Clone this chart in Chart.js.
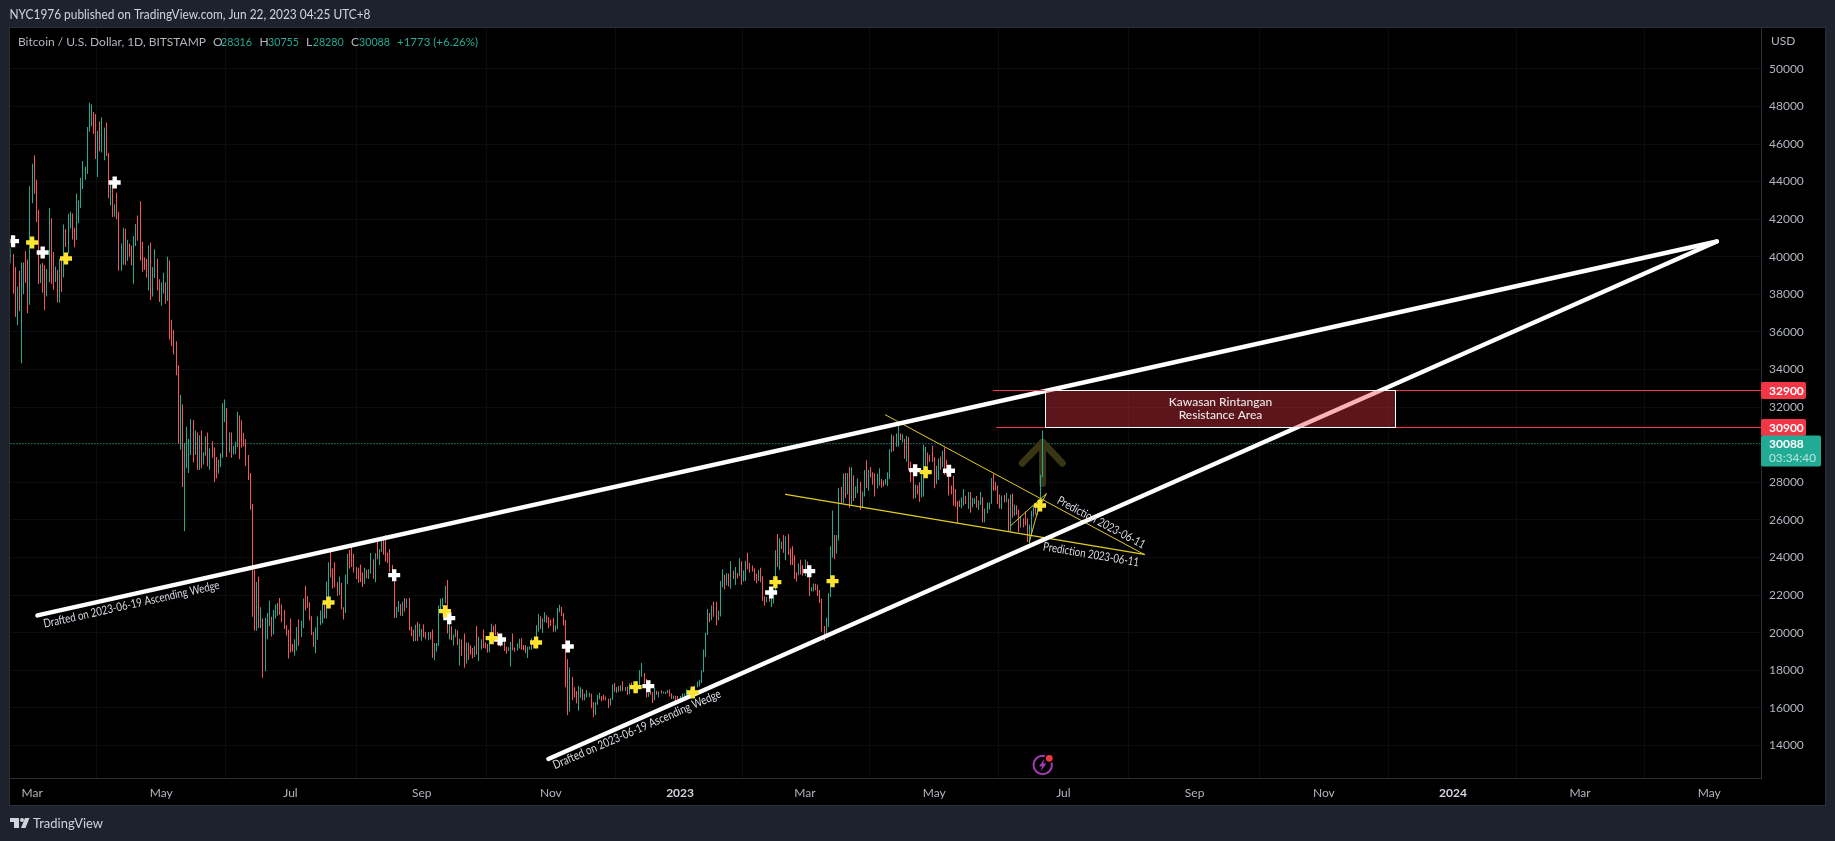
<!DOCTYPE html>
<html><head><meta charset="utf-8">
<style>html,body{margin:0;padding:0;background:#1e222d;overflow:hidden}canvas{display:block}</style>
<script src="https://cdn.jsdelivr.net/npm/chart.js@4"></script>
</head><body><canvas id="c" width="1835" height="841"></canvas>
<script>
// Day numbers count from 2022-03-01. The candle series starts on 2022-02-19 (day -10) and ends on 2023-06-21.
const firstCandleDay = -10;
const firstOpen = 40000;
const highs = [
40450,40150,39450,38400,39250,39700,39700,40300,39850,43750,
44950,45400,44100,42500,39600,39680,39550,39350,42600,42050,40250,39480,39300,39900,39860,41720,41470,42300,42400,42300,41540,43370,43000,44200,45100,44800,46900,48190,48100,47700,47600,
46700,47200,47420,46880,47150,45510,43900,43960,42800,43400,42400,40700,41550,41490,40900,40700,40600,41100,41750,42200,42950,40800,39980,39900,40600,40750,39450,40400,39900,38800,
38650,39150,38650,40000,39800,36650,36100,35500,34230,32650,32150,30100,30950,30300,31350,31300,30750,30650,30500,30750,29600,30450,30650,29800,30180,29850,29350,29200,29540,32200,32400,
31950,30650,30650,29950,30150,31750,31560,31300,30630,30300,29450,28500,26850,23350,22700,22980,21350,20750,20800,21050,21700,20850,21200,21500,21580,21850,21500,21200,20400,20150,
20750,19400,19650,20300,20700,20650,21820,22500,21950,21600,20870,20050,20280,20860,21180,21560,21650,22720,23750,24290,23420,23750,22700,22990,22650,21350,23100,24180,24400,24650,24200,
23500,23450,23620,23200,23450,23350,23380,24240,23900,24220,24900,24450,24880,25050,25200,24250,24450,23600,23200,21380,21680,21520,21650,21850,21820,21850,20330,20150,20420,20570,20480,
20200,20450,20050,20030,20050,20170,19450,19450,21450,21800,21850,22500,22800,20550,20350,19900,20190,20100,19680,19630,19950,19480,19480,19310,19180,19300,20350,19780,19650,20170,
19480,19400,19700,20470,20370,20450,20050,19600,19550,19520,19250,19220,19500,19950,19210,19420,19680,19700,19350,19340,19250,19260,19700,19600,20400,21000,20870,20750,21080,20930,20830,
20700,20800,20400,21300,21480,21360,21050,20680,18600,18150,17650,17100,16900,17170,17100,17000,16750,16950,16800,16750,16300,16300,16680,16800,16600,16700,16600,16480,16530,17250,
17320,17110,17160,17200,17420,17110,17130,17300,17350,17220,17260,17240,18000,18390,17850,17530,16800,16860,16830,17060,16910,16870,16930,16870,16860,16940,16970,16780,16660,16640,16630,
16630,16760,16760,16990,16880,17010,16960,17170,17390,17490,18000,19100,19990,21260,21050,21450,21650,21650,21180,22750,23370,23080,23180,23150,23800,23290,23490,23180,23970,23800,23320,
23810,24250,23720,23580,23430,23150,23340,23450,23000,21930,21900,22070,21890,22300,24380,25250,25020,24850,25200,25120,25250,24480,24600,24120,23220,23680,23880,23600,
23890,23780,23470,22420,22620,22600,22550,22270,21800,20300,20800,22100,24600,26500,25200,25200,27700,27750,28450,28500,28500,28800,28800,28380,27780,28200,28030,27500,28650,29180,28650,
28800,28530,28480,28450,28750,28180,28100,28170,28530,29770,30550,30480,30600,31000,30600,30550,30310,30480,30410,29100,28370,27880,27820,28000,28400,30000,29890,29580,29450,29950,
29350,28880,29270,29370,29680,29850,29200,28650,27830,28330,27650,27000,27050,27200,27650,27280,27480,27480,27180,27150,27270,27050,27480,27220,26600,26930,26930,28230,28450,28030,27830,
27350,27300,27330,27450,27130,27350,27400,26800,26780,26540,26210,26090,26450,26080,25750,26480,26770,26690,27050,28400,30755
];
const lows = [
39650,38050,36800,36350,37100,34330,38000,38600,37000,37450,
42850,43350,41850,38550,38600,38090,37150,37880,38650,38550,38250,38660,37580,37560,38120,38900,40520,40200,41520,40920,40500,40890,41800,42600,43600,44100,44400,46650,46950,46540,45200,
44250,45620,45550,45130,45360,43120,42730,42120,42130,42000,39250,39250,39570,39570,39770,40000,39550,38560,40570,40850,39800,39200,39300,38900,38200,37700,37880,38870,38200,37600,
37400,38050,37500,37650,35600,35250,34800,33700,30050,29750,27750,25400,28750,28500,29450,29050,29450,28650,28650,28750,28950,29430,28850,28670,29300,28020,28200,28450,28800,29300,31200,
29350,29580,29300,29480,29500,29880,29230,29850,29920,28850,28120,26550,20850,20100,20100,20230,20250,17600,17950,19650,20350,19800,19900,20750,20900,20950,20550,20200,19850,18630,
18950,18980,18780,19050,19300,19770,20250,21180,21320,20650,19880,19240,18900,19620,20400,20500,20760,20760,21600,22950,22350,22400,21950,22000,21250,20700,21050,22580,23420,23500,23200,
22850,22650,22700,22430,22600,22900,22850,23150,22870,22680,23900,23600,24300,24150,23780,23700,23200,23100,20780,20800,21100,20900,20880,21130,21320,20110,19810,19530,19550,19550,19800,
19570,19750,19650,19600,19640,18650,18530,19000,19300,21120,21400,21560,19950,19650,19600,19320,19750,19350,18250,18760,18130,18360,18550,18820,18640,18700,18820,18480,19100,19180,
19160,18950,18960,19500,19730,19860,19330,19250,19320,19030,18880,19020,18200,19070,18980,19050,19160,19100,19060,18900,18650,19110,19090,19160,19250,20050,20200,20000,20550,20530,20230,
20350,20050,20050,20180,21080,20880,20380,17100,15600,15800,16400,16550,16250,15850,16540,16400,16400,16550,16570,15980,15500,15620,16170,16460,16350,16400,16400,15990,16120,16430,
16860,16790,16860,16880,16880,16900,16690,16730,17080,17090,17070,16870,17080,17660,17280,16550,16580,16700,16260,16400,16700,16560,16760,16780,16730,16790,16600,16470,16490,16330,16470,
16500,16550,16600,16650,16750,16670,16910,16910,17100,17150,17320,17900,18700,19880,20550,20660,20850,20400,20660,20860,22420,22300,22520,22460,22340,22850,22540,22880,23000,22550,22720,
22750,23370,23200,23260,22760,22630,22750,22680,21690,21450,21600,21640,21370,21550,22040,23500,23350,24450,24250,23850,24150,23600,23600,22850,22720,23060,23100,23030,
23020,23200,21950,22200,22200,22260,21950,21580,20050,19570,19780,20300,21900,24000,23900,24200,24900,26840,26900,27170,27350,26650,26800,27000,27170,27420,26520,26650,27250,27700,27550,
28250,27870,27250,27670,27830,27730,27780,27880,27800,28170,29600,29650,29900,29900,30250,30130,29250,29100,28630,28000,27130,27150,27350,26970,27200,27250,28400,28900,29100,29100,
27680,27900,28120,28680,28800,28400,28400,27300,27360,26750,26700,25810,26680,26600,26750,26850,26580,26380,26670,26850,26650,26530,26800,25860,25870,26350,26550,26860,27550,27560,26850,
26600,26570,26930,26950,25390,25370,26120,26220,26270,25350,25600,25600,25720,24820,24750,25180,26170,26290,26250,26650,28280
];
const closes = [
40090,38400,37000,38250,37260,38330,39210,39120,37700,43180,
44420,43910,42450,39140,39400,38420,37980,38730,41940,39420,38730,38810,37790,39670,39280,41140,40950,41780,42190,41270,41000,42370,42890,43970,44330,44530,46820,47130,47450,47070,45530,
46300,45800,46400,46590,45520,43170,43450,42260,42760,42170,39530,40070,41140,39930,40550,40400,39700,40800,41500,41360,40480,39710,39460,39450,40430,38120,39240,39740,38600,37650,
38470,38520,37730,39700,36530,36010,35470,34060,30080,31020,28950,29030,29270,30080,31300,29860,30420,28700,30300,29180,29430,30280,29100,29650,29530,29190,28620,28990,29450,31720,31790,
29800,30450,29700,29860,29900,31370,31130,30200,30090,29090,28420,26570,22470,22130,22570,20390,20450,19000,20570,20580,20700,19970,21100,21230,21490,21040,20730,20260,20100,19430,
19270,19240,19300,20230,20190,20540,21630,21600,21590,20850,19970,19320,20230,20580,20830,21190,20780,22450,23390,23220,23150,22680,22450,22580,21300,21250,22950,23850,23770,23650,23300,
23270,22980,22820,22620,23300,22950,23170,23810,23150,23950,23940,24400,24440,24300,24100,23850,23330,23200,20830,21140,21520,21400,21520,21370,21570,20240,20030,19560,20280,19800,20050,
20130,19950,19830,19990,19790,18790,19290,19320,21370,21650,21830,22400,20170,20230,19700,19800,20110,19420,19540,18880,18470,19400,19300,18920,18800,19220,19080,19410,19590,19420,
19310,19060,19620,20340,20160,19950,19530,19420,19440,19130,19060,19150,19380,19180,19070,19260,19550,19330,19130,19040,19160,19200,19570,19330,20090,20770,20300,20590,20820,20620,20490,
20480,20150,20210,21150,21300,20920,20600,18540,15880,17590,17070,16800,16330,16620,16900,16660,16690,16700,16700,16280,15780,16220,16600,16600,16520,16450,16430,16210,16440,17170,
16970,17090,16890,17110,16970,17090,16840,17220,17130,17130,17090,17210,17780,17810,17360,16630,16780,16740,16440,16900,16820,16830,16780,16830,16830,16920,16700,16540,16630,16600,16530,
16610,16670,16670,16850,16830,16950,16940,17120,17180,17440,17940,18850,19930,20950,20880,21180,21140,20680,21080,22680,22780,22710,22920,22630,23060,23010,23080,23030,23750,22840,23130,
23730,23490,23430,23330,22940,22760,23240,22960,21800,21630,21860,21780,21780,22200,24330,23520,24570,24630,24280,24840,24440,24180,23940,23180,23160,23560,23490,23130,
23640,23470,22350,22350,22430,22410,22190,21700,20360,20150,20450,21990,24120,24670,24280,25050,27430,26960,28040,27800,28170,27300,28300,27470,27490,28000,27130,27270,28360,28030,28470,
28460,28200,27800,28170,28180,28040,27920,27940,28330,29650,30230,29900,30390,30480,30300,30320,29430,30380,28800,28240,27270,27820,27590,27520,28300,28420,29470,29340,29250,29230,
28070,28680,29030,28850,29530,28900,28440,27670,27630,27620,26980,26800,26780,26920,27170,27030,27400,26830,26880,27110,26750,26850,27220,26330,26470,26720,26870,28080,27750,27710,27210,
26820,27240,27070,27120,25740,27240,26340,26500,26480,25850,25920,25910,25900,25130,25590,26340,26510,26340,26850,28316,30088
];
const priceTicks = [14000,16000,18000,20000,22000,24000,26000,28000,30000,32000,34000,36000,38000,40000,42000,44000,46000,48000,50000];
const timeTickDays = [0,61,122,184,245,306,365,426,487,549,610,671,731,792];
const timeTickLabels = ['Mar','May','Jul','Sep','Nov','2023','Mar','May','Jul','Sep','Nov','2024','Mar','May'];
const whiteMarkDays = [-9,5,39,171,197,221,253,291,349,367,417,433];
const whiteMarkPrices = [40830,40227,43951,23059,20772,19639,19266,17154,22139,23272,28646,28614];
const yellowMarkDays = [0,16,140,195,217,238,285,312,351,378,422,476];
const yellowMarkPrices = [40759,39908,21608,21144,19708,19479,17101,16819,22687,22740,28539,26768];
const wedgeUpperDays = [2.5,795.6];
const wedgeUpperPrices = [20915,40812];
const wedgeLowerDays = [243.8,795.6];
const wedgeLowerPrices = [13281,40812];
const predUpperDays = [402.9,525.2];
const predUpperPrices = [31593,24160];
const predLowerDays = [355.8,525.2];
const predLowerPrices = [27353,24160];
const swingADays = [462.2,478.9];
const swingAPrices = [25704,27390];
const swingBDays = [470.9,475,478.9];
const swingBPrices = [24815,26502,27390];
const arrowHeadDays = [467.6,477.2,486.5];
const arrowHeadPrices = [29018,30135,29018];
const arrowShaftDays = [477.2,477.2];
const arrowShaftPrices = [30135,27938];
const lastPrice = 30088;
const zoneTop = 32900, zoneBottom = 30900;
const zoneStartDay = 478.2, zoneEndDay = 643.5;
const zoneTopLineStart = 453.7, zoneBottomLineStart = 455.2;
const noteTexts = ['Drafted on 2023-06-19 Ascending Wedge','Drafted on 2023-06-19 Ascending Wedge','Prediction 2023-06-11','Prediction 2023-06-11'];
const noteDays = [46.9,285.6,504.9,500.1];
const notePrices = [21500,14851,25863,24160];
const noteAngles = [-12.55,-23.5,28,9.5];
const noteWidths = [180,182,98,97];
const xMin = -10.25, xMax = 816.7, yMin = 12267, yMax = 52172;

const FONT = 'Lato, "Open Sans", sans-serif';
const UP = '#22ab94', DOWN = '#f7525f';
const opens = closes.map((c,i)=> i===0 ? firstOpen : closes[i-1]);
const candleColors = closes.map((c,i)=> c>=opens[i] ? UP : DOWN);
const wicks = closes.map((c,i)=>({x:firstCandleDay+i,y:[lows[i],highs[i]]}));
const bodies = closes.map((c,i)=>({x:firstCandleDay+i,y:[Math.min(opens[i],c),Math.max(opens[i],c)]}));
const pts = (xs,ys)=>xs.map((x,i)=>({x,y:ys[i]}));
const lineDs = (xs,ys,color,width,order)=>({type:'line',data:pts(xs,ys),borderColor:color,borderWidth:width,pointRadius:0,
  borderCapStyle:'round',borderJoinStyle:'round',tension:0,fill:false,order,clip:false});

const chrome = {
  id:'chrome',
  beforeDraw(ch){
    const c=ch.ctx;
    c.save();
    c.fillStyle='#1e222d';c.fillRect(0,0,1835,841);
    c.fillStyle='#000';c.fillRect(10,28,1815,777);
    c.strokeStyle='#2a2e39';c.lineWidth=1;c.strokeRect(9.5,27.5,1816,778);
    c.restore();
  },
  afterDatasetsUpdate(ch){
    ch.data.datasets.forEach((d,i)=>{
      if(d.type==='bar'){ch.getDatasetMeta(i).data.forEach(el=>{el.x=Math.round(el.x-0.5)+0.5;});}
    });
  },
  beforeDatasetsDraw(ch){
    const c=ch.ctx,ys=ch.scales.y,a=ch.chartArea;
    const snap=v=>Math.floor(ys.getPixelForValue(v))+0.5;
    c.save();
    c.strokeStyle=UP;c.lineWidth=1;c.setLineDash([1,2]);
    c.beginPath();c.moveTo(a.left,snap(lastPrice));c.lineTo(a.right,snap(lastPrice));c.stroke();
    c.restore();
  },
  afterDatasetsDraw(ch){
    const c=ch.ctx,xs=ch.scales.x,ys=ch.scales.y,a=ch.chartArea;
    const snap=v=>Math.floor(ys.getPixelForValue(v))+0.5;
    c.save();
    // resistance lines and zone
    c.strokeStyle='#f23645';c.lineWidth=1;
    [[zoneTop,zoneTopLineStart],[zoneBottom,zoneBottomLineStart]].forEach(([p,d])=>{
      c.beginPath();c.moveTo(xs.getPixelForValue(d),snap(p));c.lineTo(a.right,snap(p));c.stroke();
    });
    const l=Math.round(xs.getPixelForValue(zoneStartDay))+0.5,r=Math.round(xs.getPixelForValue(zoneEndDay))+0.5;
    const t=snap(zoneTop),b=snap(zoneBottom);
    c.fillStyle='rgba(242,54,69,0.38)';c.fillRect(l,t,r-l,b-t);
    c.strokeStyle='#ffffff';c.strokeRect(l,t,r-l,b-t);
    c.fillStyle='#ece8e9';c.font='500 12px '+FONT;c.textAlign='center';c.textBaseline='middle';
    c.fillText('Kawasan Rintangan',(l+r)/2,402.5);
    c.fillText('Resistance Area',(l+r)/2,415);
    // rotated notes
    c.fillStyle='#d8dae0';c.font='12px '+FONT;
    noteTexts.forEach((s,i)=>{
      c.save();
      c.translate(xs.getPixelForValue(noteDays[i]),ys.getPixelForValue(notePrices[i]));
      c.rotate(noteAngles[i]*Math.PI/180);
      c.fillText(s,0,0,noteWidths[i]);
      c.restore();
    });
    // news icon
    c.strokeStyle='#a63bb5';c.lineWidth=2;
    c.beginPath();c.arc(1042.7,765,9.2,0,Math.PI*2);c.stroke();
    c.fillStyle='#a63bb5';
    c.beginPath();c.moveTo(1044.5,758.5);c.lineTo(1039,766.5);c.lineTo(1042.2,766.5);c.lineTo(1040.5,771.5);c.lineTo(1046.5,763.5);c.lineTo(1043.2,763.5);c.closePath();c.fill();
    c.fillStyle='#000';c.beginPath();c.arc(1049.3,758.3,5,0,Math.PI*2);c.fill();
    c.fillStyle='#f23645';c.beginPath();c.arc(1049.3,758.3,3.4,0,Math.PI*2);c.fill();
    c.restore();
  },
  afterDraw(ch){
    const c=ch.ctx,ys=ch.scales.y;
    const snap=v=>Math.floor(ys.getPixelForValue(v))+0.5;
    c.save();
    c.textBaseline='middle';c.textAlign='left';
    // header
    c.fillStyle='#d1d4dc';c.font='13px '+FONT;
    c.fillText('NYC1976 published on TradingView.com, Jun 22, 2023 04:25 UTC+8',9.5,15,361);
    c.font='12px '+FONT;c.fillStyle='#b2b5be';
    c.fillText('Bitcoin / U.S. Dollar, 1D, BITSTAMP',18,42,188);
    [['O',213],['H',259.5],['L',306],['C',351]].forEach(([s,x])=>c.fillText(s,x,42));
    c.fillStyle=UP;
    [['28316',221,31],['30755',268,31],['28280',312.7,31],['30088',359,31],['+1773 (+6.26%)',397,81]].forEach(([s,x,w])=>c.fillText(s,x,42,w));
    c.fillStyle='#b2b5be';c.fillText('USD',1771,41);
    // price tags
    const tag=(v,col)=>{const y=snap(v);c.fillStyle=col;c.beginPath();c.roundRect(1761,y-8.5,45,17,2);c.fill();
      c.fillStyle='#fff';c.font='bold 12px '+FONT;c.fillText(String(v),1769,y+0.5);};
    tag(zoneTop,'#f23645');tag(zoneBottom,'#f23645');
    const ly=snap(lastPrice);
    c.fillStyle=UP;c.beginPath();c.roundRect(1761,ly-8,60,31,2);c.fill();
    c.fillStyle='#fff';c.font='bold 12px '+FONT;c.fillText(String(lastPrice),1769,ly+0.5);
    c.fillStyle='#b5e6dd';c.font='12px '+FONT;c.fillText('03:34:40',1769,ly+15,47);
    // logo
    c.fillStyle='#d1d4dc';
    c.fillRect(10,818,9,4);c.fillRect(14,818,5,10);
    c.beginPath();c.arc(22,820,2,0,Math.PI*2);c.fill();
    c.beginPath();c.moveTo(25,818);c.lineTo(29.5,818);c.lineTo(25.5,828);c.lineTo(21,828);c.closePath();c.fill();
    c.font='14px '+FONT;c.fillText('TradingView',33,823.5,70);
    c.restore();
  }
};

new Chart(document.getElementById('c'),{
  type:'bar',
  data:{datasets:[
    lineDs(arrowHeadDays,arrowHeadPrices,'#3a3512',7,50),
    lineDs(arrowShaftDays,arrowShaftPrices,'#3a3512',7,50),
    {type:'bar',data:wicks,backgroundColor:candleColors,barThickness:1,grouped:false,borderWidth:0,inflateAmount:0,order:40},
    {type:'bar',data:bodies,backgroundColor:candleColors,barThickness:1,grouped:false,borderWidth:0,inflateAmount:0,order:39},
    lineDs(wedgeUpperDays,wedgeUpperPrices,'#ffffff',4.4,20),
    lineDs(wedgeLowerDays,wedgeLowerPrices,'#ffffff',4.4,20),
    lineDs(predUpperDays,predUpperPrices,'#e0cc22',1,21),
    lineDs(predLowerDays,predLowerPrices,'#e0cc22',1.3,21),
    lineDs(swingADays,swingAPrices,'#e0cc22',1,21),
    lineDs(swingBDays,swingBPrices,'#e0cc22',1,21),
    {type:'scatter',data:pts(whiteMarkDays,whiteMarkPrices),pointStyle:'cross',pointRadius:6,pointBorderWidth:4.4,borderColor:'#ffffff',pointBorderColor:'#ffffff',showLine:false,order:10,clip:0},
    {type:'scatter',data:pts(yellowMarkDays,yellowMarkPrices),pointStyle:'cross',pointRadius:6,pointBorderWidth:4.4,borderColor:'#fde52f',pointBorderColor:'#fde52f',showLine:false,order:9,clip:0}
  ]},
  plugins:[chrome],
  options:{
    responsive:false,animation:false,events:[],
    layout:{padding:{left:10,top:28,right:10,bottom:36}},
    plugins:{legend:{display:false},tooltip:{enabled:false},title:{display:false}},
    scales:{
      x:{type:'linear',min:xMin,max:xMax,offset:false,
        grid:{color:'#0c0c0e',drawTicks:false},border:{color:'#2a2e39'},
        afterBuildTicks(s){s.ticks=timeTickDays.map(v=>({value:v}));},
        afterFit(s){s.height=27;},
        ticks:{autoSkip:false,maxRotation:0,padding:8,font:c=>({family:FONT,size:12,weight:/^20/.test(timeTickLabels[c.index])?'bold':'normal'}),
          color:c=>/^20/.test(timeTickLabels[c.index])?'#d1d4dc':'#b2b5be',
          callback(v,i){return timeTickLabels[i];}}
      },
      y:{type:'linear',position:'right',min:yMin,max:yMax,
        grid:{color:'#0c0c0e',drawTicks:false},border:{color:'#2a2e39'},
        afterBuildTicks(s){s.ticks=priceTicks.map(v=>({value:v}));},
        afterFit(s){s.width=63.5;},
        ticks:{autoSkip:false,padding:7.5,crossAlign:'near',color:'#b2b5be',font:{family:FONT,size:12},
          callback(v){return String(v);}}
      }
    }
  }
});
if(highs.length!==488||lows.length!==488||closes.length!==488)throw new Error('len '+highs.length+' '+lows.length+' '+closes.length);
</script></body></html>
